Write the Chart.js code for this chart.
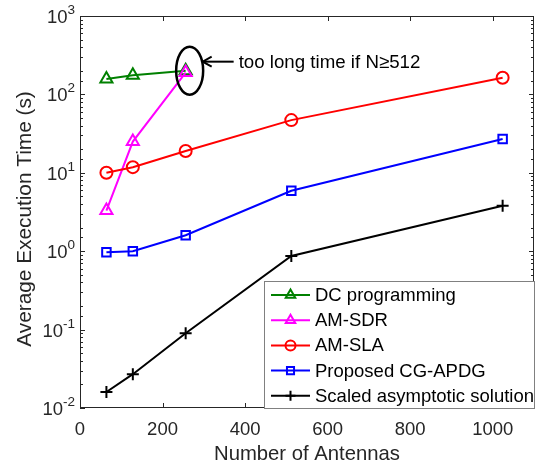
<!DOCTYPE html>
<html><head><meta charset="utf-8">
<script src="https://cdn.jsdelivr.net/npm/chart.js@4/dist/chart.umd.min.js"></script>
<style>html,body{margin:0;padding:0;background:#fff}</style>
</head><body>
<canvas id="c" width="543" height="468"></canvas>
<script>
// ---- data ----
const antennas = [64, 128, 256, 512, 1024];
const dcProgramming = [157, 175, 200];
const amSdr = [3.3, 25, 190];
const amSla = [10, 11.8, 19, 47, 163];
const cgApdg = [0.97, 1.0, 1.6, 5.9, 27];
const asymptotic = [0.016, 0.027, 0.09, 0.87, 3.8];
const xTickValues = [0, 200, 400, 600, 800, 1000];
const yPowers = [-2, -1, 0, 1, 2, 3];
const seriesNames = ['DC programming', 'AM-SDR', 'AM-SLA', 'Proposed CG-APDG', 'Scaled asymptotic solution'];
const xTitle = 'Number of Antennas';
const yTitle = 'Average Execution Time (s)';
const noteText = 'too long time if N\u2265512';
const notePoint = {x: 256, y: 195};

// ---- styles ----
const FONT = "'Liberation Sans', Arial, Helvetica, sans-serif";
const series = [dcProgramming, amSdr, amSla, cgApdg, asymptotic];
const colors = ['#008000', '#ff00ff', '#ff0000', '#0000ff', '#000000'];
const pStyles = ['triangle', 'triangle', 'circle', 'rect', 'cross'];
const pRadii = [7, 7, 6, 6, 6];
const legendRadii = [5.5, 5.5, 5, 5, 5];

const datasets = series.map((vals, i) => ({
  label: seriesNames[i],
  data: vals.map((v, j) => ({x: antennas[j], y: v})),
  borderColor: colors[i],
  backgroundColor: 'rgba(0,0,0,0)',
  borderWidth: 2,
  pointStyle: pStyles[i],
  pointRadius: pRadii[i],
  pointHoverRadius: pRadii[i],
  pointBorderWidth: 2,
  pointBorderColor: colors[i],
  pointBackgroundColor: 'rgba(0,0,0,0)',
  tension: 0,
  fill: false,
  order: 5 - i
}));

function line(ctx, x1, y1, x2, y2) { ctx.beginPath(); ctx.moveTo(x1, y1); ctx.lineTo(x2, y2); ctx.stroke(); }

const axesPlugin = {
  id: 'axesBox',
  afterDatasetsDraw(chart) {
    const {ctx, chartArea: {left, right, top, bottom}, scales: {x, y}} = chart;
    ctx.save();
    ctx.strokeStyle = '#262626';
    ctx.lineWidth = 1;
    ctx.strokeRect(left + 0.5, top + 0.5, right - left - 1, bottom - top - 1);
    x.ticks.forEach(t => {
      if (!xTickValues.includes(t.value)) return;
      const px = Math.round(x.getPixelForValue(t.value)) + 0.5;
      line(ctx, px, bottom, px, bottom - 5);
      line(ctx, px, top, px, top + 5);
    });
    y.ticks.forEach(t => {
      const lg = Math.log10(t.value);
      const major = Math.abs(lg - Math.round(lg)) < 1e-9;
      const len = major ? 5 : 3;
      const py = Math.round(y.getPixelForValue(t.value)) + 0.5;
      line(ctx, left, py, left + len, py);
      line(ctx, right, py, right - len, py);
    });
    // y tick labels with superscript exponent
    ctx.fillStyle = '#262626';
    ctx.textBaseline = 'alphabetic';
    ctx.textAlign = 'right';
    yPowers.forEach(p => {
      const py = y.getPixelForValue(Math.pow(10, p));
      const exp = String(p);
      ctx.font = '13.5px ' + FONT;
      const ew = ctx.measureText(exp).width;
      const xr = left - 5;
      ctx.fillText(exp, xr, py - 2);
      ctx.font = '18.5px ' + FONT;
      ctx.fillText('10', xr - ew, py + 7);
    });
    // y axis title
    ctx.save();
    ctx.translate(25, (top + bottom) / 2 + 7);
    ctx.rotate(-Math.PI / 2);
    ctx.textAlign = 'center';
    ctx.textBaseline = 'middle';
    ctx.font = '20.8px ' + FONT;
    ctx.fillText(yTitle, 0, 0);
    ctx.restore();
    ctx.restore();
  }
};

const notePlugin = {
  id: 'note',
  afterDatasetsDraw(chart) {
    const {ctx, scales: {x, y}} = chart;
    const cx = x.getPixelForValue(notePoint.x) + 4;
    const cy = y.getPixelForValue(notePoint.y) - 1;
    ctx.save();
    ctx.strokeStyle = '#000';
    ctx.lineWidth = 2.5;
    ctx.beginPath();
    ctx.ellipse(cx, cy, 13.5, 24, 0, 0, 2 * Math.PI);
    ctx.stroke();
    const ay = cy - 9;
    const hx = cx + 13, tx = cx + 44;
    ctx.lineWidth = 2;
    line(ctx, hx, ay, tx, ay);
    ctx.beginPath();
    ctx.moveTo(hx + 9, ay - 5); ctx.lineTo(hx, ay); ctx.lineTo(hx + 9, ay + 5);
    ctx.stroke();
    ctx.fillStyle = '#000';
    ctx.font = '18.7px ' + FONT;
    ctx.textAlign = 'left';
    ctx.textBaseline = 'middle';
    ctx.fillText(noteText, tx + 5, ay + 1);
    ctx.restore();
  }
};

const legendPlugin = {
  id: 'customLegend',
  afterDraw(chart) {
    const {ctx, chartArea: {right, bottom}} = chart;
    const w = 271, h = 128;
    const lx = right - w + 1, ly = bottom - h + 1;
    ctx.save();
    ctx.fillStyle = '#fff';
    ctx.fillRect(lx, ly, w, h);
    ctx.strokeStyle = '#808080';
    ctx.lineWidth = 1;
    ctx.strokeRect(lx + 0.5, ly + 0.5, w - 1, h - 1);
    ctx.font = '18.5px ' + FONT;
    ctx.textAlign = 'left';
    ctx.textBaseline = 'middle';
    seriesNames.forEach((name, i) => {
      const ry = ly + 14 + i * 25.2;
      ctx.strokeStyle = colors[i];
      ctx.lineWidth = 2;
      line(ctx, lx + 7, ry, lx + 46, ry);
      ctx.fillStyle = 'rgba(0,0,0,0)';
      Chart.helpers.drawPoint(ctx, {pointStyle: pStyles[i], radius: legendRadii[i], rotation: 0, borderWidth: 2}, lx + 26.5, ry);
      ctx.fillStyle = '#000';
      ctx.fillText(name, lx + 51, ry + 1);
    });
    ctx.restore();
  }
};

new Chart(document.getElementById('c'), {
  type: 'line',
  data: {datasets},
  options: {
    responsive: false,
    animation: false,
    devicePixelRatio: 1,
    layout: {padding: {top: 16, right: 7, left: 0, bottom: 0}},
    plugins: {legend: {display: false}, tooltip: {enabled: false}},
    scales: {
      x: {
        type: 'linear', min: 0, max: 1100,
        grid: {display: false, drawTicks: false},
        border: {display: false},
        ticks: {stepSize: 200, includeBounds: false, maxRotation: 0, autoSkip: false,
          font: {family: FONT, size: 18.5}, color: '#262626', padding: 11,
          callback: v => xTickValues.includes(v) ? String(v) : ''},
        title: {display: true, text: xTitle, color: '#262626',
          font: {family: FONT, size: 20.3, lineHeight: 1}, padding: {top: 0, bottom: 3}},
        afterFit: s => { s.height = 60; }
      },
      y: {
        type: 'logarithmic', min: 0.01, max: 1000,
        grid: {display: false, drawTicks: false},
        border: {display: false},
        ticks: {display: false},
        title: {display: false},
        afterFit: s => { s.width = 80; }
      }
    }
  },
  plugins: [axesPlugin, notePlugin, legendPlugin]
});
</script>
</body></html>
